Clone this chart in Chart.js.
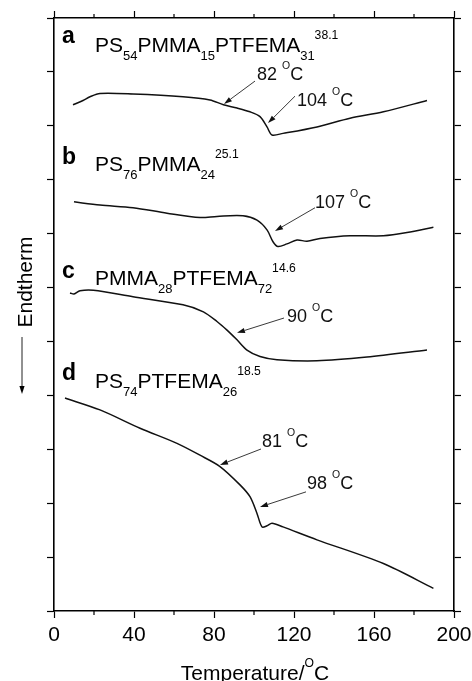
<!DOCTYPE html>
<html>
<head>
<meta charset="utf-8">
<script src="https://cdn.jsdelivr.net/npm/chart.js@4.4.1/dist/chart.umd.min.js"></script>
<style>
  html, body { margin: 0; padding: 0; background: #fff; }
  #wrap { width: 472px; height: 681px; position: relative; }
</style>
</head>
<body>
<div id="wrap"><canvas id="dscChart"></canvas></div>
<script>
// DSC traces (x = temperature in C, y = offset heat flow, arbitrary units)
const tempA = [9.5, 14.5, 18, 23, 39.5, 64.5, 78, 84.7, 91.5, 98, 103, 106.5, 109, 114.5, 131.5, 148, 164.7, 186.5];
const heatA = [93.9, 94.7, 95.4, 96.0, 95.9, 95.4, 94.8, 93.9, 93.3, 92.6, 91.7, 89.8, 88.3, 88.6, 89.8, 91.4, 92.6, 94.7];

const tempB = [10, 23, 39.5, 56.5, 73, 81.5, 94.5, 101.5, 106.5, 109.5, 112, 116.5, 121.5, 126.5, 133, 148, 164.7, 176.5, 189.7];
const heatB = [75.9, 75.3, 74.8, 73.8, 73.0, 73.2, 73.3, 72.5, 70.7, 68.5, 67.6, 68.1, 68.8, 68.6, 69.1, 69.6, 69.6, 70.2, 71.2];

const tempC = [8, 10, 13, 19.7, 39.5, 64.5, 74.7, 81.5, 86.5, 91.5, 96.5, 103, 111.5, 131.5, 156.5, 186.5];
const heatC = [59.0, 58.8, 59.4, 59.5, 58.3, 56.8, 55.5, 53.7, 52.1, 50.3, 48.4, 47.2, 46.6, 46.4, 47.1, 48.4];

const tempD = [5.5, 23, 43, 61.5, 73, 83, 93, 98, 101.5, 104, 106.5, 109, 114.5, 131.5, 164.7, 189.7];
const heatD = [39.5, 37.3, 33.9, 31.1, 28.9, 26.8, 23.4, 21.2, 18.1, 15.6, 15.8, 16.3, 15.6, 13.2, 8.8, 4.2];

const xTickValues = [0, 40, 80, 120, 160, 200];
const xMinorValues = [20, 60, 100, 140, 180];

const FONT = '"Liberation Sans", Arial, sans-serif';

// sample labels: letter + formula with sub/superscripts (placed in data units)
const sampleLabels = [
    { letter: 'a', lx: 4, ly: 105.4, fx: 20.5, fy: 103.7,
      parts: [['PS', ''], ['54', 'sub'], ['PMMA', ''], ['15', 'sub'], ['PTFEMA', ''], ['31', 'sub'], ['38.1', 'sup']] },
    { letter: 'b', lx: 4, ly: 82.9, fx: 20.5, fy: 81.6,
      parts: [['PS', ''], ['76', 'sub'], ['PMMA', ''], ['24', 'sub'], ['25.1', 'sup']] },
    { letter: 'c', lx: 4, ly: 61.8, fx: 20.5, fy: 60.5,
      parts: [['PMMA', ''], ['28', 'sub'], ['PTFEMA', ''], ['72', 'sub'], ['14.6', 'sup']] },
    { letter: 'd', lx: 4, ly: 42.85, fx: 20.5, fy: 41.4,
      parts: [['PS', ''], ['74', 'sub'], ['PTFEMA', ''], ['26', 'sub'], ['18.5', 'sup']] }
];

// glass transition callouts: text anchor, arrow tail and tip (data units)
const callouts = [
    { text: '82', tx: 101.5, ty: 98.5, x1: 100.5, y1: 98.3, x2: 85, y2: 94.05 },
    { text: '104', tx: 121.5, ty: 93.7, x1: 120.5, y1: 95.5, x2: 107, y2: 90.5 },
    { text: '107', tx: 130.5, ty: 74.8, x1: 130.5, y1: 74.8, x2: 110.5, y2: 70.5 },
    { text: '90', tx: 116.5, ty: 53.6, x1: 115, y1: 54.35, x2: 91.5, y2: 51.6 },
    { text: '81', tx: 104, ty: 30.4, x1: 103.5, y1: 30.05, x2: 83, y2: 27.1 },
    { text: '98', tx: 126.5, ty: 22.6, x1: 126, y1: 22.1, x2: 103, y2: 19.3 }
];

function toPoints(xs, ys) {
    return xs.map((x, i) => ({ x: x, y: ys[i] }));
}

function drawRich(ctx, parts, x, y, size) {
    let cx = x;
    parts.forEach(([txt, kind]) => {
        let fs = size, dy = 0;
        if (kind === 'sub') { fs = size * 0.62; dy = size * 0.38; }
        if (kind === 'sup') { fs = size * 0.58; dy = -size * 0.62; }
        ctx.font = fs + 'px ' + FONT;
        ctx.fillText(txt, cx, y + dy);
        cx += ctx.measureText(txt).width;
    });
    return cx - x;
}

function richWidth(ctx, parts, size) {
    let w = 0;
    parts.forEach(([txt, kind]) => {
        let fs = size;
        if (kind === 'sub') fs = size * 0.62;
        if (kind === 'sup') fs = size * 0.58;
        ctx.font = fs + 'px ' + FONT;
        w += ctx.measureText(txt).width;
    });
    return w;
}

function drawArrow(ctx, x1, y1, x2, y2) {
    const ang = Math.atan2(y2 - y1, x2 - x1);
    const len = 8, half = 2.6;
    const bx = x2 - len * Math.cos(ang), by = y2 - len * Math.sin(ang);
    ctx.beginPath();
    ctx.moveTo(x1, y1);
    ctx.lineTo(bx, by);
    ctx.stroke();
    ctx.beginPath();
    ctx.moveTo(x2, y2);
    ctx.lineTo(bx + half * Math.sin(ang), by - half * Math.cos(ang));
    ctx.lineTo(bx - half * Math.sin(ang), by + half * Math.cos(ang));
    ctx.closePath();
    ctx.fill();
}

const decorPlugin = {
    id: 'decor',
    afterDraw(chart) {
        const ctx = chart.ctx;
        const xs = chart.scales.x, ys = chart.scales.y;
        const area = chart.chartArea;
        ctx.save();
        ctx.fillStyle = '#000';
        ctx.strokeStyle = '#000';
        ctx.textBaseline = 'alphabetic';
        ctx.textAlign = 'left';

        // minor ticks top and bottom
        ctx.lineWidth = 1.2;
        xMinorValues.forEach(v => {
            const px = xs.getPixelForValue(v);
            ctx.beginPath();
            ctx.moveTo(px, area.bottom); ctx.lineTo(px, area.bottom + 4);
            ctx.moveTo(px, area.top); ctx.lineTo(px, area.top - 4);
            ctx.stroke();
        });

        // sample labels
        sampleLabels.forEach(s => {
            ctx.font = 'bold 23px ' + FONT;
            ctx.fillText(s.letter, xs.getPixelForValue(s.lx), ys.getPixelForValue(s.ly));
            drawRich(ctx, s.parts, xs.getPixelForValue(s.fx), ys.getPixelForValue(s.fy), 21);
        });

        // callouts
        ctx.strokeStyle = '#222';
        ctx.fillStyle = '#111';
        ctx.lineWidth = 0.9;
        callouts.forEach(c => {
            drawArrow(ctx, xs.getPixelForValue(c.x1), ys.getPixelForValue(c.y1),
                xs.getPixelForValue(c.x2), ys.getPixelForValue(c.y2));
            drawRich(ctx, [[c.text + ' ', ''], ['O', 'sup'], ['C', '']],
                xs.getPixelForValue(c.tx), ys.getPixelForValue(c.ty), 18);
        });

        // x axis title
        ctx.fillStyle = '#000';
        const titleParts = [['Temperature/', ''], ['O', 'sup'], ['C', '']];
        const tw = richWidth(ctx, titleParts, 21);
        drawRich(ctx, titleParts, (area.left + area.right) / 2 - tw / 2 + 1, 680, 21);

        // y axis title with down arrow
        ctx.save();
        ctx.translate(32, 282);
        ctx.rotate(-Math.PI / 2);
        ctx.textAlign = 'center';
        ctx.font = '21px ' + FONT;
        ctx.fillText('Endtherm', 0, 0);
        ctx.restore();
        ctx.lineWidth = 1;
        drawArrow(ctx, 22, 337, 22, 394);

        ctx.restore();
    }
};

const lineStyle = {
    borderColor: '#111',
    borderWidth: 1.5,
    pointRadius: 0,
    fill: false,
    tension: 0.3
};

const axisGrid = { drawOnChartArea: false, color: '#000', tickLength: 7, tickWidth: 1.2 };
const axisBorder = { display: true, color: '#000', width: 1.6 };

const chart = new Chart(document.getElementById('dscChart'), {
    type: 'line',
    data: {
        datasets: [
            Object.assign({ label: 'a', data: toPoints(tempA, heatA) }, lineStyle),
            Object.assign({ label: 'b', data: toPoints(tempB, heatB) }, lineStyle),
            Object.assign({ label: 'c', data: toPoints(tempC, heatC) }, lineStyle),
            Object.assign({ label: 'd', data: toPoints(tempD, heatD) }, lineStyle)
        ]
    },
    options: {
        responsive: true,
        maintainAspectRatio: false,
        animation: false,
        layout: { padding: 0 },
        plugins: {
            legend: { display: false },
            tooltip: { enabled: false }
        },
        scales: {
            x: {
                type: 'linear', position: 'bottom', min: 0, max: 200,
                afterBuildTicks: s => { s.ticks = xTickValues.map(v => ({ value: v })); },
                afterFit: s => { s.height = 70; s.paddingLeft = 0; s.paddingRight = 0; },
                ticks: { color: '#000', padding: 5, maxRotation: 0, font: { family: FONT, size: 21 } },
                grid: axisGrid,
                border: axisBorder
            },
            x2: {
                type: 'linear', position: 'top', min: 0, max: 200,
                afterBuildTicks: s => { s.ticks = xTickValues.map(v => ({ value: v })); },
                afterFit: s => { s.height = 18; s.paddingLeft = 0; s.paddingRight = 0; },
                ticks: { display: false },
                grid: axisGrid,
                border: axisBorder
            },
            y: {
                type: 'linear', position: 'left', min: 0, max: 110,
                ticks: { display: false, stepSize: 10 },
                afterFit: s => { s.width = 54; s.paddingTop = 0; s.paddingBottom = 0; },
                grid: axisGrid,
                border: axisBorder
            },
            y2: {
                type: 'linear', position: 'right', min: 0, max: 110,
                ticks: { display: false, stepSize: 10 },
                afterFit: s => { s.width = 18; s.paddingTop = 0; s.paddingBottom = 0; },
                grid: axisGrid,
                border: axisBorder
            }
        }
    },
    plugins: [decorPlugin]
});
</script>
</body>
</html>
